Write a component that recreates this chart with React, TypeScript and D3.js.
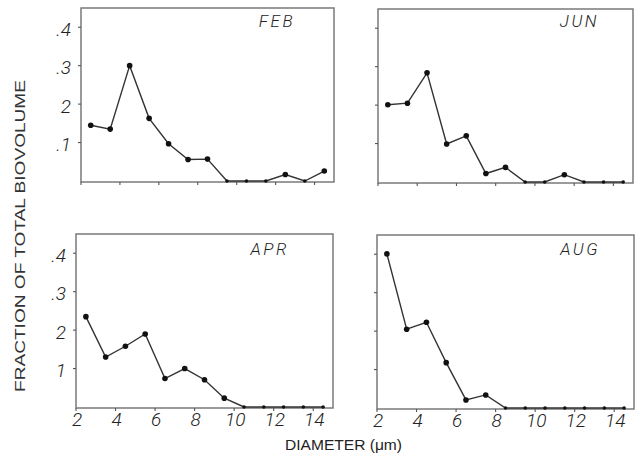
import React from 'react';
import * as d3 from 'd3';

const diameters = [2.5, 3.5, 4.5, 5.5, 6.5, 7.5, 8.5, 9.5, 10.5, 11.5, 12.5, 13.5, 14.5];
const febValues = [0.145, 0.135, 0.3, 0.163, 0.097, 0.056, 0.057, 0, 0, 0, 0.017, 0, 0.026];
const junValues = [0.201, 0.205, 0.284, 0.099, 0.12, 0.022, 0.038, 0, 0, 0.019, 0, 0, 0];
const aprValues = [0.235, 0.13, 0.158, 0.19, 0.074, 0.1, 0.071, 0.023, 0, 0, 0, 0, 0];
const augValues = [0.401, 0.205, 0.223, 0.118, 0.021, 0.034, 0, 0, 0, 0, 0, 0, 0];

const monthLabels = ['FEB', 'JUN', 'APR', 'AUG'];
const yTickValues = [0.1, 0.2, 0.3, 0.4];
const topYTickLabels = ['.1', '2', '.3', '.4'];
const bottomYTickLabels = ['1', '2', '.3', '.4'];
const xTickValues = [2, 4, 6, 8, 10, 12, 14];
const xTickLabels = ['2', '4', '6', '8', '10', '12', '14'];
const xDomain = [2, 15];
const yDomain = [0, 0.45];
const xAxisTitle = 'DIAMETER (\u03bcm)';
const yAxisTitle = 'FRACTION OF TOTAL BIOVOLUME';

const seriesList = [febValues, junValues, aprValues, augValues];

const layout = [
  { x0: 81, x1: 334, y0: 8, y1: 182, labelEnd: 295, labelY: 27, yLabels: topYTickLabels, xLabels: false },
  { x0: 378, x1: 633, y0: 9, y1: 183, labelEnd: 599, labelY: 27, yLabels: null, xLabels: false },
  { x0: 76, x1: 333, y0: 234, y1: 408, labelEnd: 289, labelY: 255, yLabels: bottomYTickLabels, xLabels: true },
  { x0: 377, x1: 634, y0: 235, y1: 409, labelEnd: 600, labelY: 255, yLabels: null, xLabels: true },
];

const tickFont = "Roboto, 'Liberation Sans', sans-serif";

function Panel({ idx }: { idx: number }) {
  const L = layout[idx];
  const values = seriesList[idx];
  const x = d3.scaleLinear().domain(xDomain).range([L.x0, L.x1]);
  const y = d3.scaleLinear().domain(yDomain).range([L.y1 - 1, L.y0]);
  const pts: [number, number][] = diameters.map((d, i) => [d, values[i]]);
  const line = d3
    .line<[number, number]>()
    .x((d) => x(d[0]))
    .y((d) => y(d[1]));
  return (
    <g>
      <rect
        x={L.x0}
        y={L.y0}
        width={L.x1 - L.x0}
        height={L.y1 - L.y0}
        fill="none"
        stroke="#7a7a7a"
        strokeWidth={1.5}
      />
      {yTickValues.map((t, i) => (
        <g key={'y' + i}>
          <line x1={L.x0 - 3} x2={L.x0} y1={y(t)} y2={y(t)} stroke="#555" strokeWidth={1.1} />
          {L.yLabels && (
            <text
              x={L.x0 - 10}
              y={y(t) + 2}
              textAnchor="end"
              dominantBaseline="central"
              fontFamily={tickFont}
              fontStyle="italic"
              fontWeight={300}
              fontSize={19}
              fill="#222"
            >
              {L.yLabels[i]}
            </text>
          )}
        </g>
      ))}
      {xTickValues.map((t, i) => (
        <g key={'x' + i}>
          <line x1={x(t)} x2={x(t)} y1={L.y1} y2={L.y1 + 3} stroke="#555" strokeWidth={1.1} />
          {L.xLabels && (
            <text
              x={x(t) + 1}
              y={L.y1 + 18}
              textAnchor="middle"
              fontFamily={tickFont}
              fontStyle="italic"
              fontWeight={300}
              fontSize={19}
              fill="#222"
            >
              {xTickLabels[i]}
            </text>
          )}
        </g>
      ))}
      <path d={line(pts) || ''} fill="none" stroke="#333" strokeWidth={1.4} />
      {pts.map((p, i) => (
        <circle key={'c' + i} cx={x(p[0])} cy={y(p[1])} r={p[1] === 0 ? 1.8 : 2.8} fill="#111" />
      ))}
      <text
        x={L.labelEnd}
        y={L.labelY}
        textAnchor="end"
        fontFamily={tickFont}
        fontStyle="italic"
        fontWeight={300}
        fontSize={17}
        letterSpacing={2.5}
        fill="#222"
      >
        {monthLabels[idx]}
      </text>
    </g>
  );
}

export default function App() {
  return (
    <svg
      width={636}
      height={455}
      style={{ position: 'absolute', left: 0, top: 0, background: '#fff' }}
    >
      <rect x={0} y={0} width={636} height={455} fill="#fff" />
      {layout.map((_, i) => (
        <Panel key={i} idx={i} />
      ))}
      <text
        x={285}
        y={450}
        fontFamily="'Liberation Sans', Arial, sans-serif"
        fontSize={14}
        textLength={117}
        lengthAdjust="spacingAndGlyphs"
        fill="#222"
      >
        {xAxisTitle}
      </text>
      <text
        transform="translate(25,392) rotate(-90)"
        x={0}
        y={0}
        fontFamily="'Liberation Sans', Arial, sans-serif"
        fontSize={14.5}
        textLength={312}
        lengthAdjust="spacingAndGlyphs"
        fill="#333"
      >
        {yAxisTitle}
      </text>
    </svg>
  );
}
